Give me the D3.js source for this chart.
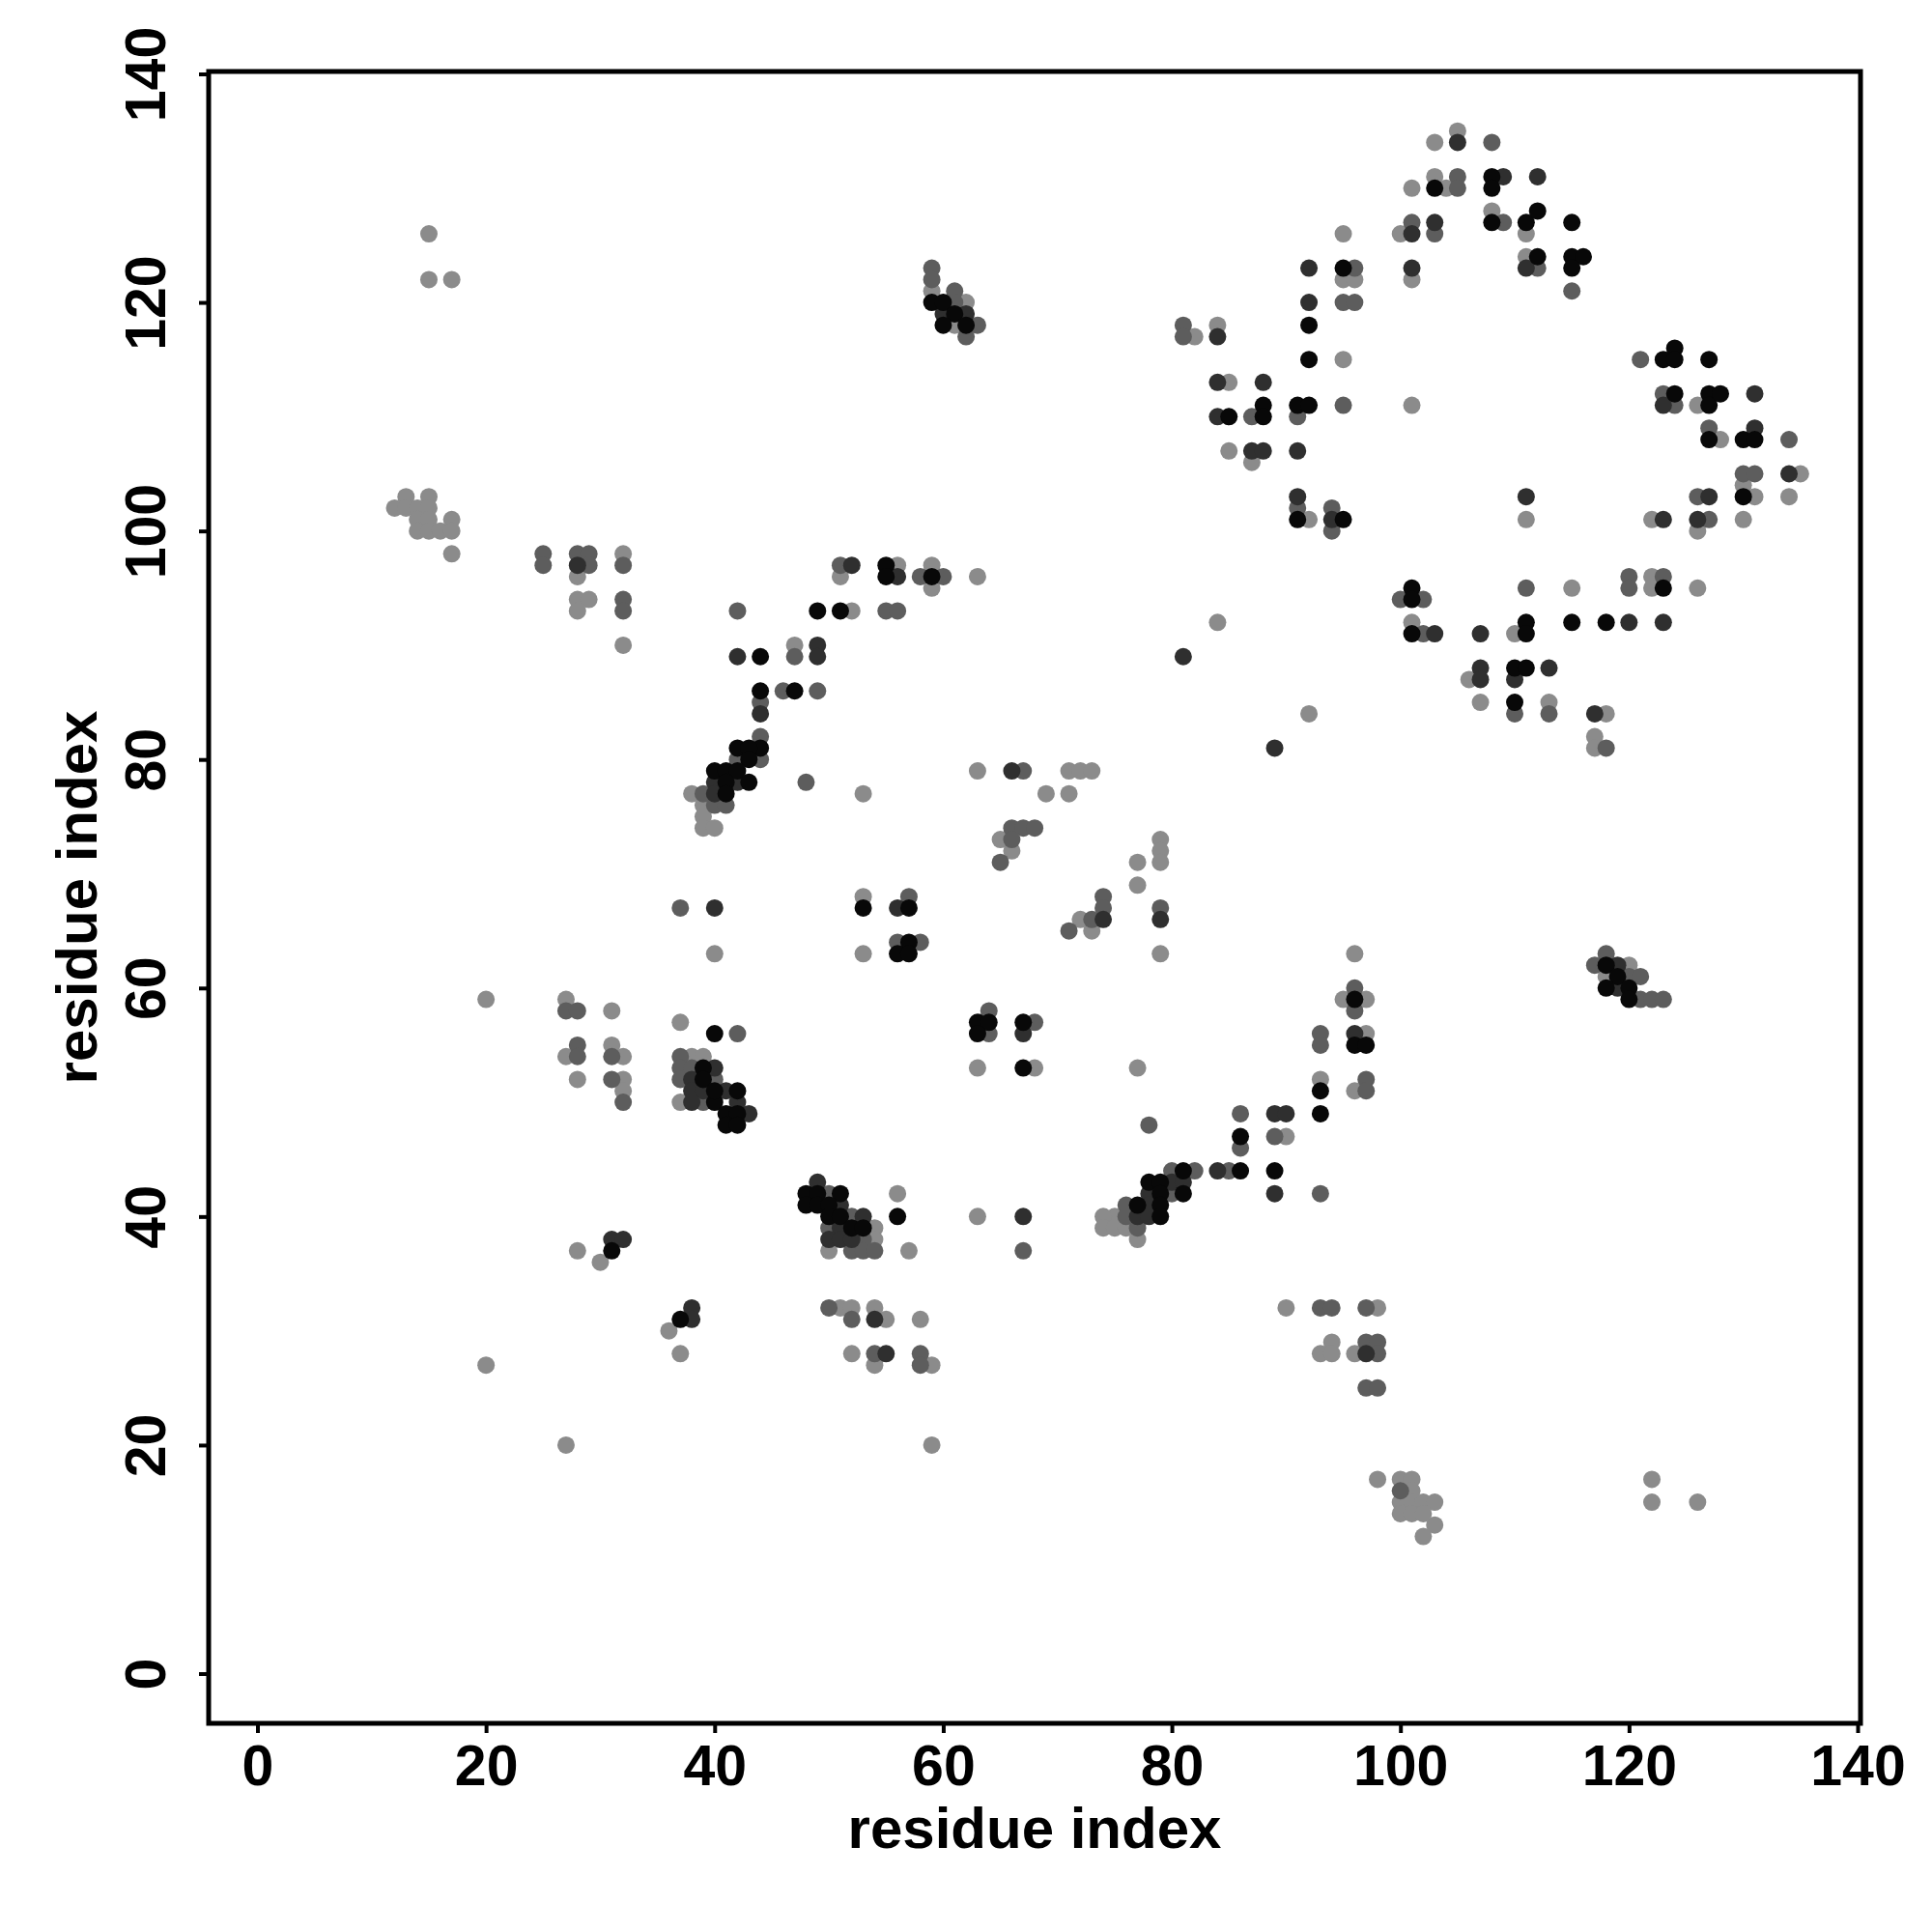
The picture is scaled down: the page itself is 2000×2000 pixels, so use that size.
<!DOCTYPE html>
<html>
<head>
<meta charset="utf-8">
<script src="https://cdn.jsdelivr.net/npm/d3@7"></script>
<style>
  html, body { margin: 0; padding: 0; background: #ffffff; }
  svg { display: block; }
  text { font-family: "Liberation Sans", Arial, Helvetica, sans-serif; font-weight: bold; fill: #000; }
</style>
</head>
<body>
<svg id="chart" width="2000" height="2000"></svg>
<script>
// ---- data: contacts (residue i, residue j), grouped by shade ----
const lightContacts = [
  [15,126],[15,122],[17,122],[12,102],[13,103],[15,103],[13,102],[14,102],[15,102],[14,101],[15,101],[17,101],[14,100],[15,100],[16,100],[17,100],[17,98],
  [28,96],[32,98],[28,94],[29,94],[28,93],[32,90],
  [47,90],[52,93],[51,96],[56,97],[59,97],[59,95],[63,96],
  [38,77],[39,76],[39,75],[39,74],[40,74],[53,77],
  [59,121],[62,120],[61,118],
  [63,79],[71,79],[72,79],[73,79],[69,77],[71,77],[65,73],[66,72],[77,71],[79,73],[79,72],[79,71],[77,69],[53,68],[72,66],[73,65],[79,63],[53,63],[63,53],[68,53],[77,53],
  [103,134],[105,135],[101,130],[103,131],[104,130],[108,128],[111,126],[111,124],[100,126],[95,126],[95,122],[96,122],[101,122],[82,117],[84,118],[95,115],[85,113],[101,111],[85,107],[87,106],[92,101],[111,101],[84,92],[101,92],[110,91],[106,87],[107,85],[92,84],[113,85],
  [126,111],[128,108],[130,104],[131,103],[135,105],[134,103],[122,101],[126,100],[130,101],[115,95],[122,96],[122,95],[126,95],[118,84],[117,82],[117,81],
  [40,63],[20,59],[27,59],[31,58],[27,54],[28,52],[31,55],[32,54],[32,52],[32,51],[37,57],[38,54],[39,54],[37,50],[28,37],[30,36],[36,30],[37,28],[20,27],[27,20],
  [54,39],[54,38],[50,37],[56,42],[57,37],[63,40],[51,32],[52,32],[54,32],[55,31],[58,31],[52,28],[54,27],[59,27],[59,20],
  [96,63],[95,59],[97,59],[97,56],[93,52],[96,51],[90,47],[75,40],[74,40],[74,39],[75,39],[76,39],[77,38],[90,32],[98,32],[94,29],[93,28],[94,28],[96,28],
  [98,17],[100,17],[101,17],[101,16],[100,15],[101,15],[102,15],[103,15],[100,14],[101,14],[102,14],[103,13],[102,12],[122,17],[122,15],[126,15],
  [120,62],[118,61]
];
const mediumContacts = [
  [25,98],[25,97],[28,98],[29,98],[29,97],[32,97],[32,94],[32,93],
  [42,93],[47,89],[55,93],[56,93],[51,97],[58,96],[60,96],[46,86],[49,86],[44,85],[44,82],[44,80],[42,80],[39,77],[40,76],[41,76],[48,78],
  [59,123],[59,122],[61,121],[61,120],[63,118],[62,117],
  [67,79],[66,74],[67,74],[68,74],[66,73],[65,71],[57,68],[74,68],[74,67],[73,66],[71,65],[79,67],[56,64],[58,64],[64,58],[64,56],[68,57],
  [108,134],[105,131],[105,130],[109,127],[112,123],[101,127],[103,126],[96,123],[95,120],[96,120],[81,118],[81,117],[87,110],[91,110],[95,111],[91,102],[94,102],[94,100],[100,94],[102,94],[102,91],[111,95],[110,84],[113,84],
  [115,121],[121,115],[123,112],[124,111],[127,109],[134,108],[130,105],[131,105],[126,103],[127,101],[120,96],[120,95],[123,96],[118,81],
  [37,67],[27,58],[28,58],[28,55],[28,54],[31,54],[31,52],[32,50],[42,56],[37,54],[37,53],[38,53],[37,52],[40,52],[39,50],
  [50,42],[52,40],[50,39],[53,38],[52,37],[53,37],[54,37],[67,37],[50,32],[52,31],[54,28],[58,28],[58,27],
  [96,60],[96,58],[93,56],[93,55],[97,52],[97,51],[78,48],[86,49],[86,46],[89,47],[80,44],[82,44],[85,44],[93,42],[80,42],[76,41],[76,40],[77,39],[93,32],[94,32],[97,32],[97,29],[98,29],[98,28],[97,25],[98,25],
  [100,16],
  [118,63],[117,62],[120,61],[121,61],[121,59],[122,59],[123,59]
];
const darkContacts = [
  [28,97],
  [42,89],[49,90],[49,89],[52,97],[56,96],[44,84],[40,78],[42,78],[40,77],
  [60,119],[62,119],
  [66,79],[56,67],[74,66],[79,66],[67,56],
  [105,134],[109,131],[112,131],[111,123],[101,126],[103,127],[92,123],[101,123],[92,120],[84,117],[84,113],[88,113],[84,110],[87,107],[88,107],[91,107],[91,103],[94,101],[111,103],[81,89],[103,91],[107,91],[107,88],[107,87],[110,87],[113,88],[89,81],
  [123,111],[131,112],[131,109],[134,105],[127,103],[123,101],[126,101],[120,92],[123,92],[117,84],
  [40,67],[40,53],[38,52],[38,51],[39,51],[38,50],[41,51],[42,50],[43,49],[31,38],[32,38],[38,32],[38,31],
  [49,43],[51,41],[53,40],[51,39],[50,38],[51,38],[52,38],[67,40],[54,31],[55,28],
  [96,56],[89,49],[90,49],[84,44],[89,42],[80,43],[81,43],[78,42],[78,41],[77,40],[78,40],[97,28],
  [119,62],[119,60]
];
const blackContacts = [
  [44,89],[49,93],[51,93],[55,97],[55,96],[59,96],[44,86],[47,86],[44,81],[42,81],[43,81],[43,80],[40,79],[41,79],[42,79],[41,78],[43,78],[41,77],
  [59,120],[60,120],[61,119],[60,118],[62,118],
  [53,67],[57,67],[57,64],[56,63],[57,63],[63,57],[64,57],[63,56],[67,57],[67,53],
  [103,130],[108,131],[108,130],[108,127],[111,127],[112,128],[112,124],[95,123],[92,118],[92,115],[85,110],[88,111],[88,110],[91,111],[92,111],[91,101],[95,101],[101,95],[101,94],[101,91],[111,92],[111,91],[110,88],[111,88],[110,85],
  [115,127],[115,124],[116,124],[115,123],[123,115],[124,116],[124,115],[127,115],[124,112],[127,112],[127,111],[128,112],[127,108],[130,108],[131,108],[130,103],[123,95],[115,92],[118,92],
  [40,56],[39,53],[39,52],[40,50],[40,51],[42,51],[41,49],[42,49],[41,48],[42,48],[31,37],[37,31],
  [48,42],[49,42],[51,42],[48,41],[49,41],[50,41],[50,40],[51,40],[52,39],[53,39],[56,40],
  [96,59],[96,55],[97,55],[93,51],[93,49],[86,47],[81,44],[86,44],[89,44],[78,43],[79,43],[81,42],[79,42],[77,41],[79,41],[79,40],
  [118,62],[119,61],[118,60],[120,60],[120,59]
];
const xTickValues = [0, 20, 40, 60, 80, 100, 120, 140];
const yTickValues = [0, 20, 40, 60, 80, 100, 120, 140];
const xTitle = "residue index";
const yTitle = "residue index";

// ---- layout ----
const svg = d3.select("#chart");
const box = { left: 216, right: 1926, top: 74, bottom: 1784 };
const x = d3.scaleLinear().domain([0, 140]).range([266.5, 1923]);
const y = d3.scaleLinear().domain([0, 140]).range([1732.5, 76.5]);

const layers = [
  { data: lightContacts,  color: "#8b8b8b" },
  { data: mediumContacts, color: "#5d5d5d" },
  { data: darkContacts,   color: "#2f2f2f" },
  { data: blackContacts,  color: "#080808" }
];

const pts = svg.append("g");
layers.forEach(layer => {
  pts.append("g").selectAll("circle")
    .data(layer.data)
    .join("circle")
    .attr("cx", d => x(d[0]))
    .attr("cy", d => y(d[1]))
    .attr("r", 9)
    .attr("fill", layer.color);
});

// frame
svg.append("rect")
  .attr("x", box.left).attr("y", box.top)
  .attr("width", box.right - box.left).attr("height", box.bottom - box.top)
  .attr("fill", "none").attr("stroke", "#000").attr("stroke-width", 5);

// x axis
const xAxis = svg.append("g")
  .attr("transform", `translate(0,${box.bottom})`)
  .call(d3.axisBottom(x).tickValues(xTickValues).tickSize(10).tickSizeOuter(0).tickPadding(12));
xAxis.select(".domain").remove();
xAxis.selectAll(".tick line").attr("stroke", "#000").attr("stroke-width", 4);
xAxis.selectAll(".tick text")
  .attr("font-size", 59).attr("font-weight", "bold")
  .attr("font-family", "Liberation Sans, Arial, sans-serif")
  .attr("fill", "#000");

// y axis
const yAxis = svg.append("g")
  .attr("transform", `translate(${box.left},0)`)
  .call(d3.axisLeft(y).tickValues(yTickValues).tickSize(10).tickSizeOuter(0));
yAxis.select(".domain").remove();
yAxis.selectAll(".tick line").attr("stroke", "#000").attr("stroke-width", 4);
yAxis.selectAll(".tick text")
  .attr("x", null).attr("dy", null)
  .attr("transform", "translate(-45,0) rotate(-90)")
  .attr("text-anchor", "middle")
  .attr("font-size", 59).attr("font-weight", "bold")
  .attr("font-family", "Liberation Sans, Arial, sans-serif")
  .attr("fill", "#000");

// titles
svg.append("text")
  .attr("x", (box.left + box.right) / 2)
  .attr("y", 1913)
  .attr("text-anchor", "middle")
  .attr("font-size", 60)
  .text(xTitle);

svg.append("text")
  .attr("transform", `translate(100,${(box.top + box.bottom) / 2}) rotate(-90)`)
  .attr("text-anchor", "middle")
  .attr("font-size", 60)
  .text(yTitle);
</script>
</body>
</html>
